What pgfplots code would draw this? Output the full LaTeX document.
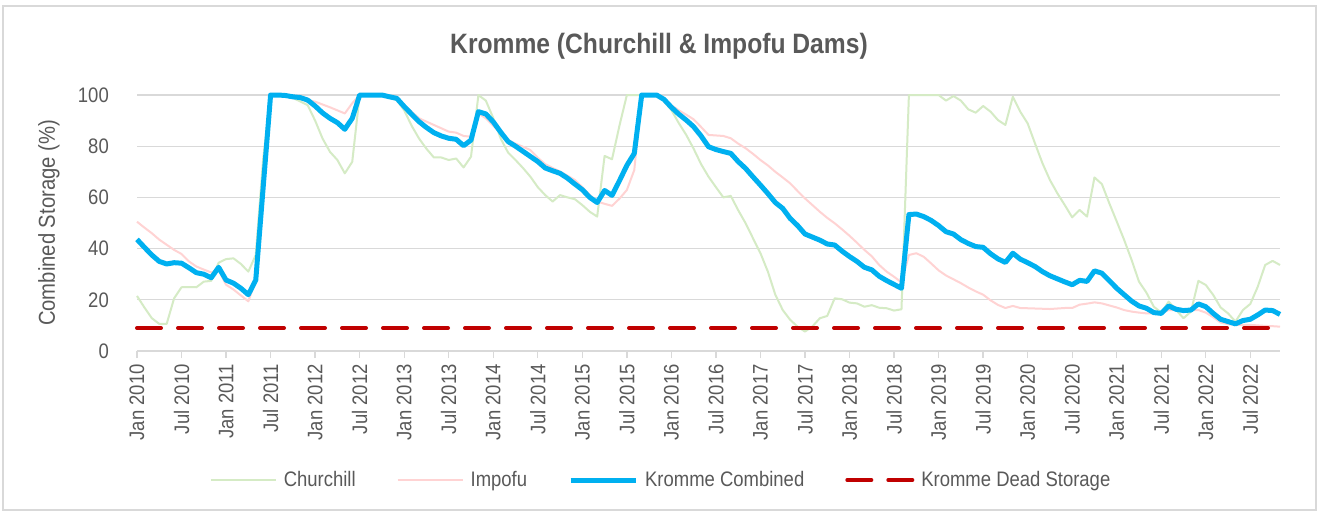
\documentclass[border=0pt]{standalone}
\usepackage{pgfplots}
\pgfplotsset{compat=1.18}
\usepackage{pgfplotstable}
\usepackage{fontspec}
\setmainfont{Liberation Sans}[FakeStretch=0.88]
\definecolor{cGrid}{HTML}{D9D9D9}
\definecolor{cText}{HTML}{595959}
\definecolor{cChurch}{HTML}{D5EBC5}
\definecolor{cImp}{HTML}{FFD3D3}
\definecolor{cBlue}{HTML}{00B0F0}
\definecolor{cRed}{HTML}{C00000}
\newcommand\tickfont{\fontsize{21bp}{25bp}\selectfont}

\pgfplotstableread{
m ch im co
0 21.5 50.5 43.6
1 17.0 48.2 40.5
2 12.8 46.0 37.5
3 10.6 43.5 35.0
4 10.6 41.5 34.0
5 20.6 39.5 34.5
6 24.9 37.9 34.3
7 25.0 35.0 32.5
8 24.9 33.0 30.6
9 27.1 31.8 30.0
10 27.4 30.7 28.6
11 34.5 31.7 32.7
12 35.9 25.9 27.7
13 36.2 24.0 26.5
14 34.0 21.7 24.5
15 31.0 19.4 22.0
16 37.5 27.7 27.7
17 75.0 64.0 64.0
18 100 100 100
19 100 100 100
20 99.5 99.8 99.8
21 98.8 99.3 99.3
22 97.5 98.7 99.0
23 96.0 98.0 98.0
24 90.0 97.4 95.7
25 83.0 96.3 93.0
26 77.8 95.2 90.9
27 74.6 94.0 89.2
28 69.4 92.8 86.6
29 73.9 96.8 90.9
30 100 100 100
31 100 100 100
32 100 100 100
33 100 100 100
34 99.0 99.3 99.3
35 98.0 98.7 98.7
36 94.0 96.0 95.5
37 88.0 93.5 92.5
38 83.0 90.9 89.6
39 79.0 89.6 87.3
40 75.6 88.3 85.3
41 75.6 87.0 84.0
42 74.6 85.7 83.1
43 75.2 85.3 82.7
44 71.7 84.0 80.2
45 75.9 83.7 82.4
46 100 92.8 93.5
47 97.8 90.9 92.6
48 91.0 88.0 89.5
49 83.0 85.0 85.5
50 77.5 82.4 81.8
51 74.6 81.0 80.0
52 71.5 79.8 78.0
53 68.1 78.5 76.0
54 64.0 75.5 74.0
55 60.9 73.0 71.5
56 58.4 71.5 70.4
57 60.9 70.1 69.4
58 60.0 68.5 67.5
59 59.3 66.8 65.2
60 57.0 64.0 63.0
61 54.4 61.0 60.0
62 52.5 58.4 58.0
63 76.2 57.5 62.7
64 74.9 56.7 60.8
65 88.0 59.5 66.5
66 100 62.9 72.5
67 100 70.7 77.2
68 100 100 100
69 100 100 100
70 100 100 100
71 97.5 98.0 98.3
72 94.1 96.0 95.2
73 89.0 94.0 92.5
74 84.4 92.3 90.2
75 79.0 90.5 87.6
76 73.0 87.5 84.0
77 68.1 84.4 79.8
78 64.0 84.2 78.7
79 60.0 84.0 77.9
80 60.6 83.1 77.2
81 55.0 81.0 74.0
82 49.9 79.2 71.3
83 44.0 77.0 68.0
84 38.2 74.6 64.8
85 31.0 72.5 61.5
86 22.0 70.0 58.0
87 16.0 67.8 55.7
88 12.2 65.5 51.8
89 9.5 62.5 49.0
90 7.6 59.6 45.7
91 9.6 57.0 44.5
92 12.8 54.4 43.3
93 13.7 52.0 41.8
94 20.6 49.9 41.4
95 20.2 47.5 39.0
96 18.9 45.0 36.9
97 18.6 42.3 35.0
98 17.3 39.5 32.7
99 17.9 37.0 31.7
100 16.9 33.6 29.2
101 16.7 31.0 27.5
102 15.8 29.0 26.0
103 16.3 26.8 24.5
104 100 37.5 53.3
105 100 38.2 53.5
106 100 36.8 52.5
107 100 34.2 51.0
108 100 31.5 49.0
109 97.8 29.5 46.6
110 99.6 28.0 45.7
111 97.8 26.5 43.5
112 94.4 24.8 42.0
113 93.1 23.3 40.8
114 95.7 22.0 40.5
115 93.5 19.8 38.0
116 90.2 18.0 36.0
117 88.3 16.8 34.6
118 99.3 17.6 38.2
119 93.5 16.8 35.9
120 88.9 16.7 34.5
121 81.0 16.6 33.0
122 73.3 16.5 31.0
123 66.8 16.4 29.4
124 61.6 16.6 28.2
125 57.0 16.8 27.0
126 52.2 16.8 25.9
127 55.1 18.1 27.6
128 52.5 18.5 27.2
129 67.8 19.0 31.3
130 65.2 18.6 30.4
131 57.7 17.8 27.5
132 50.6 17.0 24.5
133 43.4 16.0 22.0
134 35.6 15.4 19.5
135 27.1 15.0 17.6
136 22.8 14.7 16.7
137 17.3 14.7 15.0
138 15.0 14.7 14.7
139 19.3 16.0 17.6
140 16.0 16.0 16.3
141 12.8 16.0 15.8
142 15.4 16.0 16.0
143 27.4 16.0 18.4
144 25.8 15.0 17.3
145 21.9 13.2 14.7
146 17.0 11.1 12.4
147 14.7 10.5 11.5
148 11.5 10.2 10.6
149 16.0 10.2 11.9
150 18.4 10.2 12.4
151 25.1 10.0 14.1
152 33.6 9.8 16.0
153 35.2 9.7 15.8
154 33.6 9.5 14.3
}\kromme

\pgfplotstableread{
m dead
0 9
154 9
}\deadtab

\begin{document}
\begin{tikzpicture}
\useasboundingbox (0bp,0bp) rectangle (1318bp,-512bp);
\fill[white] (0bp,0bp) rectangle (1318bp,-512bp);
\draw[cGrid, line width=1.3bp] (3bp,-6bp) rectangle (1316bp,-510bp);
\node[font=\fontsize{28bp}{32bp}\selectfont\bfseries, text=cText] at (659bp,-46bp) {Kromme (Churchill \& Impofu Dams)};
\begin{axis}[
  at={(137bp,-351bp)}, anchor=south west,
  scale only axis, width=1143bp, height=256bp,
  xmin=0, xmax=154, ymin=0, ymax=100,
  clip=false,
  axis x line*=bottom, axis y line*=left,
  y axis line style={draw=none},
  x axis line style={draw=cGrid, line width=1.3bp},
  ymajorgrids,
  major grid style={draw=cGrid, line width=1.3bp},
  ytick={0,20,...,100},
  ytick style={draw=none},
  xtick={0,6,...,150},
  xticklabels={Jan 2010,Jul 2010,Jan 2011,Jul 2011,Jan 2012,Jul 2012,Jan 2013,Jul 2013,Jan 2014,Jul 2014,Jan 2015,Jul 2015,Jan 2016,Jul 2016,Jan 2017,Jul 2017,Jan 2018,Jul 2018,Jan 2019,Jul 2019,Jan 2020,Jul 2020,Jan 2021,Jul 2021,Jan 2022,Jul 2022},
  xtick style={draw=cGrid, line width=1.3bp},
  tick align=outside, major tick length=7bp,
  tick label style={font=\tickfont, text=cText},
  /pgf/number format/assume math mode=true,
  yticklabel style={inner sep=0pt, anchor=east, xshift=-21bp},
  xticklabel style={inner sep=0pt, yshift=-6bp, rotate=90, anchor=east},
  ylabel={Combined Storage (\%)},
  every axis y label/.style={at={(axis description cs:-0.077,0.5)}, rotate=90, anchor=center, font=\fontsize{23bp}{27bp}\selectfont, text=cText},
  legend columns=4,
  legend style={at={(axis description cs:0.4576,-0.504)}, anchor=center, draw=none, fill=none, font=\tickfont, text=cText, nodes={inner sep=0pt},
    /tikz/every odd column/.append style={column sep=7bp},
    /tikz/every even column/.append style={column sep=41bp}},
  legend image code/.code={\draw[#1] (0bp,0bp) -- (65bp,0bp);},
  every axis plot/.append style={line join=round},
]
\addplot[cChurch, line width=2bp] table[x=m, y=ch] {\kromme};
\addlegendentry{Churchill}
\addplot[cImp, line width=2bp] table[x=m, y=im] {\kromme};
\addlegendentry{Impofu}
\addplot[cBlue, line width=5bp] table[x=m, y=co] {\kromme};
\addlegendentry{Kromme Combined}
\addplot[cRed, line width=4bp, line cap=round, dash pattern=on 24bp off 17bp] table[x=m, y=dead] {\deadtab};
\addlegendentry{Kromme Dead Storage}
\end{axis}
\end{tikzpicture}
\end{document}
